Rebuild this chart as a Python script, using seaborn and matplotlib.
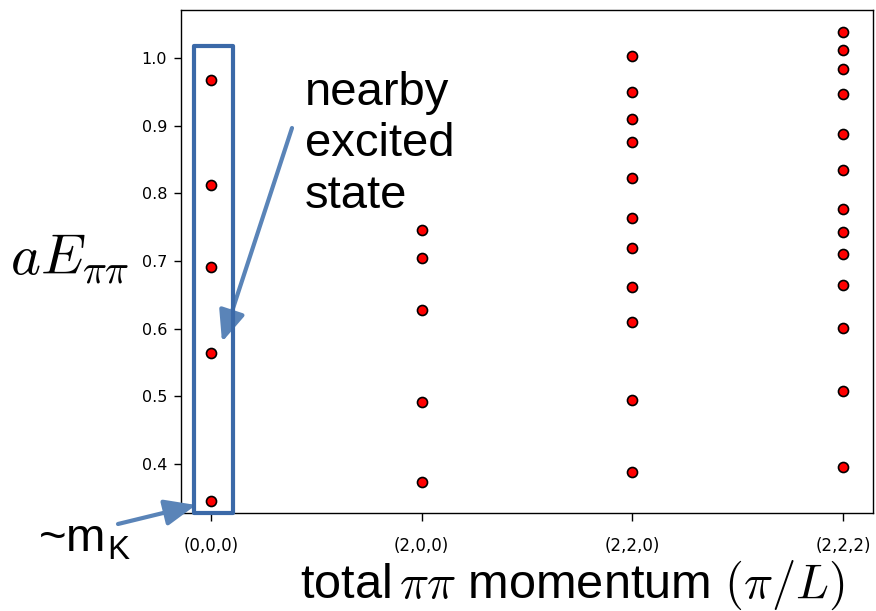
import matplotlib
matplotlib.use("Agg")
import matplotlib.pyplot as plt
import seaborn as sns
import pandas as pd
from matplotlib.patches import Rectangle

sns.set_style("ticks")
plt.rcParams['mathtext.fontset'] = 'cm'
plt.rcParams['text.color'] = 'black'
plt.rcParams['xtick.color'] = 'black'
plt.rcParams['ytick.color'] = 'black'
plt.rcParams['axes.edgecolor'] = 'black'

categories = ["(0,0,0)", "(2,0,0)", "(2,2,0)", "(2,2,2)"]
e_000 = [0.9675, 0.8124, 0.6913, 0.5643, 0.3453]
e_200 = [0.746, 0.7046, 0.6278, 0.4919, 0.3734]
e_220 = [1.003, 0.9493, 0.9099, 0.8764, 0.8227, 0.7637, 0.7193, 0.6622, 0.6096, 0.4944, 0.3882]
e_222 = [1.0384, 1.0123, 0.9833, 0.9468, 0.8877, 0.8346, 0.7770, 0.7435, 0.7100, 0.6647, 0.6016, 0.5081, 0.3961]
yticks = [0.4, 0.5, 0.6, 0.7, 0.8, 0.9, 1.0]

rows = []
for i, vals in enumerate([e_000, e_200, e_220, e_222]):
    for v in vals:
        rows.append({"x": i, "E": v})
df = pd.DataFrame(rows)

fig = plt.figure(figsize=(8.76, 6.11), dpi=100)
ax = fig.add_axes([181/876, 1-513/611, (873-181)/876, (513-10)/611])
sns.scatterplot(data=df, x="x", y="E", ax=ax, color="red", edgecolor="black",
                linewidth=1.2, s=52, zorder=3)
ax.set_xlim(-0.142, 3.142)
ax.set_ylim(0.3276, 1.0709)
ax.set_xticks(range(len(categories)))
ax.set_xticklabels(categories, fontsize=12)
ax.set_yticks(yticks)
ax.set_yticklabels([f"{t:.1f}" for t in yticks], fontsize=11.5)
ax.tick_params(axis="x", length=6, width=1, pad=11)
ax.tick_params(axis="y", length=5, width=1, pad=5)
ax.set_xlabel("")
ax.set_ylabel("")
for s in ax.spines.values():
    s.set_linewidth(1.0)
    s.set_color("black")

fig.text(572/876, 1-585/611, r"total$\,\pi\pi$ momentum $(\pi/L)$", fontsize=35,
         family="Liberation Sans", ha="center", va="center")
fig.text(10/876, 1-258/611, r"$aE_{\pi\pi}$", fontsize=41, ha="left", va="center")

# blue box
box = Rectangle((-0.0807, 0.3276), 0.1851, 1.0177-0.3276, fill=False,
                edgecolor="#3b69a8", linewidth=3, joinstyle="round", clip_on=False, zorder=4)
ax.add_patch(box)

fig.text(305/876, 1-71/611, "nearby\nexcited\nstate",
         fontsize=34, family="Liberation Sans", ha="left", va="top", linespacing=1.22)
fig.text(38/876, 1-540/611, r"~m$_{\mathregular{K}}$", fontsize=34, family="Liberation Sans",
         ha="left", va="center")

arrow_col = "#5a84b8"
style = "-|>,head_length=1.9,head_width=0.8"
ax.annotate("", xy=(222/876, 1-342/611), xytext=(292/876, 1-128/611),
            xycoords="figure fraction", textcoords="figure fraction",
            arrowprops=dict(arrowstyle=style, color=arrow_col, lw=3,
                            shrinkA=0, shrinkB=0), annotation_clip=False)
ax.annotate("", xy=(196/876, 1-505/611), xytext=(118/876, 1-524/611),
            xycoords="figure fraction", textcoords="figure fraction",
            arrowprops=dict(arrowstyle=style, color=arrow_col, lw=3,
                            shrinkA=0, shrinkB=0), annotation_clip=False)

fig.savefig("out.png", dpi=100)
